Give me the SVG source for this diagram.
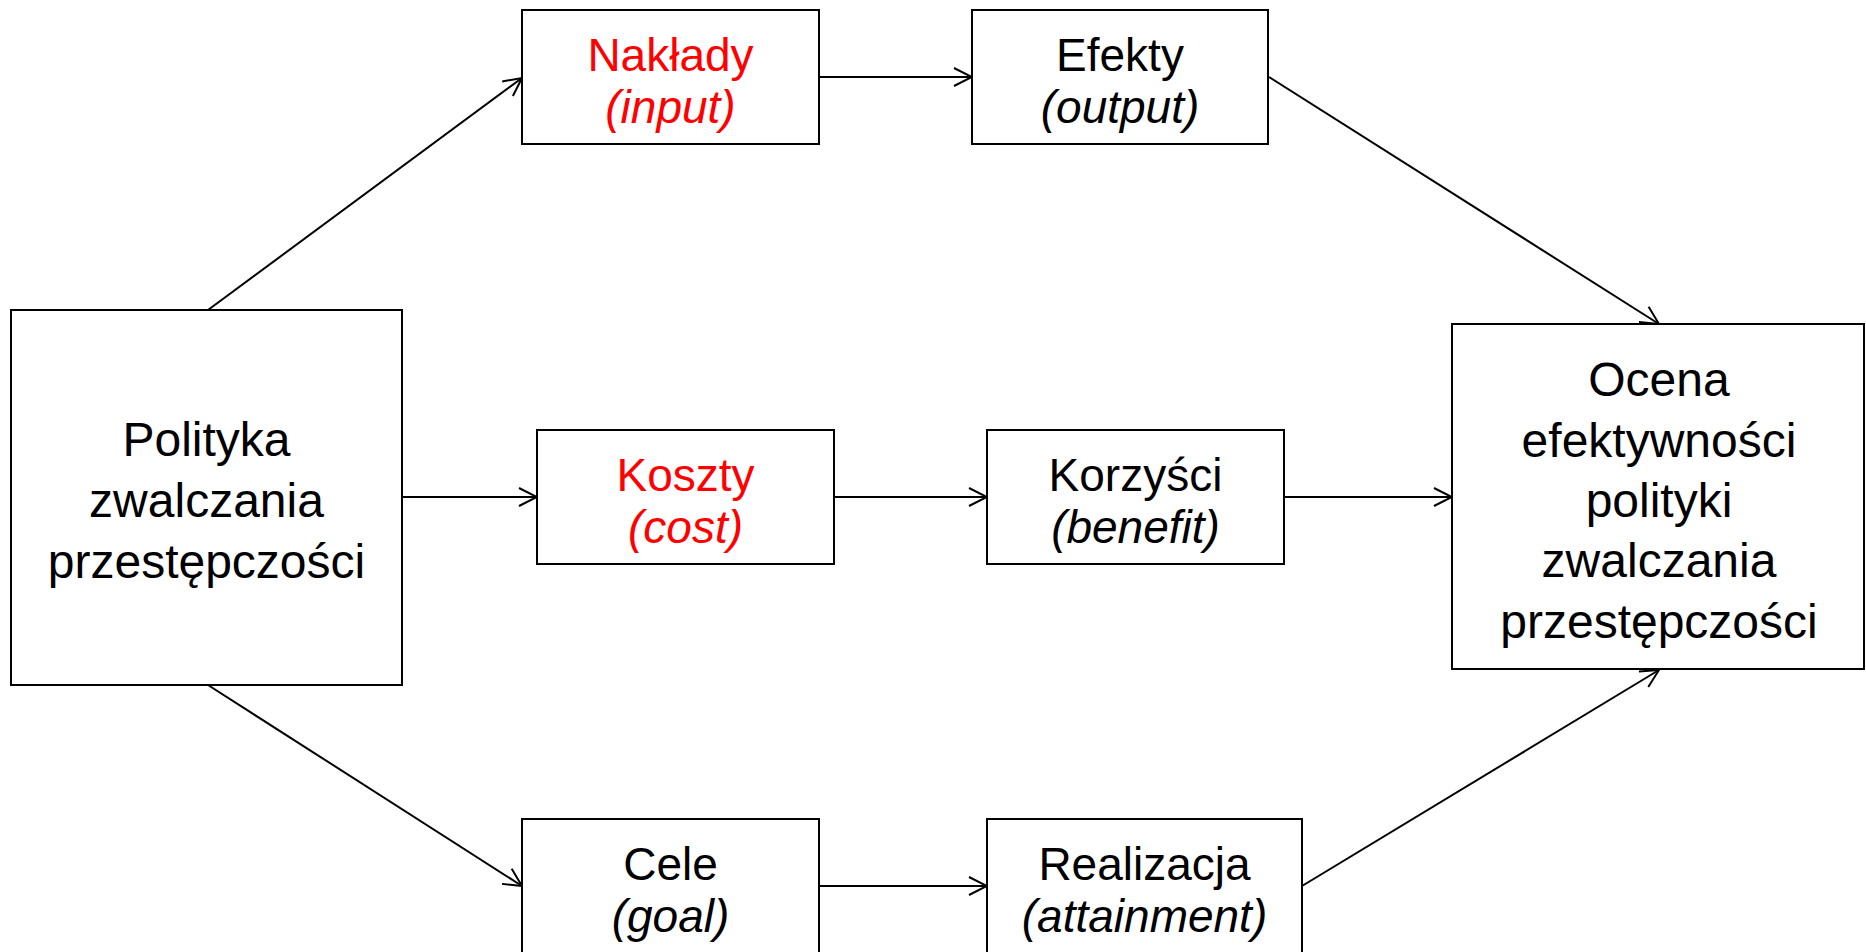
<svg xmlns="http://www.w3.org/2000/svg" width="1866" height="952" viewBox="0 0 1866 952">
<defs>
<marker id="arr" markerUnits="userSpaceOnUse" markerWidth="22" markerHeight="22" viewBox="-20 -11 22 22" refX="0" refY="0" orient="auto">
<path d="M-18,-9 L0,0 L-18,9" fill="none" stroke="#000" stroke-width="2"/>
</marker>
</defs>
<style>
rect{fill:#fff;stroke:#000;stroke-width:2}
text{font-family:"Liberation Sans",Arial,sans-serif;font-size:46px;text-anchor:middle;fill:#000}
.big text{font-size:48px}
.i{font-style:italic}
.r{fill:#ff0000}
#connectors line{stroke:#000;stroke-width:2;marker-end:url(#arr)}
</style>
<rect x="0" y="0" width="1866" height="952" style="stroke:none;fill:#fff"/>
<g id="connectors">
<line x1="208" y1="310" x2="522" y2="78"/>
<line x1="819" y1="77" x2="972" y2="77"/>
<line x1="1269" y1="77" x2="1659" y2="324"/>
<line x1="402" y1="497" x2="537" y2="497"/>
<line x1="834" y1="497" x2="987" y2="497"/>
<line x1="1284" y1="497" x2="1452" y2="497"/>
<line x1="208" y1="685" x2="522" y2="886"/>
<line x1="819" y1="886" x2="987" y2="886"/>
<line x1="1302" y1="886" x2="1659" y2="670"/>
</g>
<g id="polityka" class="big">
<rect x="11" y="310" width="391" height="375"/>
<text x="206.5" y="456">Polityka</text>
<text x="206.5" y="517">zwalczania</text>
<text x="206.5" y="578">przestępczości</text>
</g>
<g id="naklady">
<rect x="522" y="10" width="297" height="134"/>
<text x="670.5" y="71" class="r">Nakłady</text>
<text x="670.5" y="123" class="i r">(input)</text>
</g>
<g id="efekty">
<rect x="972" y="10" width="296" height="134"/>
<text x="1120" y="71">Efekty</text>
<text x="1120" y="123" class="i">(output)</text>
</g>
<g id="koszty">
<rect x="537" y="430" width="297" height="134"/>
<text x="685.5" y="491" class="r">Koszty</text>
<text x="685.5" y="543" class="i r">(cost)</text>
</g>
<g id="korzysci">
<rect x="987" y="430" width="297" height="134"/>
<text x="1135.5" y="491">Korzyści</text>
<text x="1135.5" y="543" class="i">(benefit)</text>
</g>
<g id="cele">
<rect x="522" y="819" width="297" height="134"/>
<text x="670.5" y="880">Cele</text>
<text x="670.5" y="932" class="i">(goal)</text>
</g>
<g id="realizacja">
<rect x="987" y="819" width="315" height="134"/>
<text x="1144.5" y="880">Realizacja</text>
<text x="1144.5" y="932" class="i">(attainment)</text>
</g>
<g id="ocena" class="big">
<rect x="1452" y="324" width="412" height="345"/>
<text x="1659" y="396">Ocena</text>
<text x="1659" y="457">efektywności</text>
<text x="1659" y="517">polityki</text>
<text x="1659" y="577">zwalczania</text>
<text x="1659" y="638">przestępczości</text>
</g>
</svg>
